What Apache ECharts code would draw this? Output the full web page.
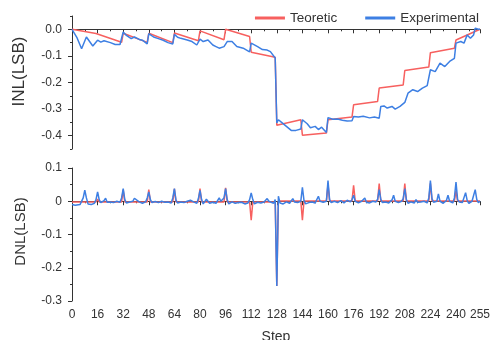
<!DOCTYPE html>
<html>
<head>
<meta charset="utf-8">
<script src="https://cdn.jsdelivr.net/npm/echarts@6/dist/echarts.min.js"></script>
<style>
  html, body { margin: 0; padding: 0; background: #fff; }
  #chart { width: 494px; height: 340px; }
</style>
</head>
<body>
<div id="chart"></div>
<script>
// step positions of the ticks
const stepMajor = [0, 16, 32, 48, 64, 80, 96, 112, 128, 144, 160, 176, 192, 208, 224, 240, 255];
const stepMinor = [8, 24, 40, 56, 72, 88, 104, 120, 136, 152, 168, 184, 200, 216, 232, 248];
const inlMajor = [0, -0.1, -0.2, -0.3, -0.4];
const inlMinor = [0.05, -0.05, -0.15, -0.25, -0.35, -0.45];
const dnlMajor = [0.1, 0, -0.1, -0.2, -0.3];
const dnlMinor = [0.05, -0.05, -0.15, -0.25];

// INL, theoretical (break points of the saw-tooth)
const inlTheo = [
  [0, 0], [15, -0.016], [16, -0.01], [31, -0.049], [32, -0.015], [47, -0.049],
  [48, -0.015], [63, -0.05], [64, -0.014], [79, -0.043], [80, -0.006], [95, -0.039],
  [96, 0.0], [111, -0.027], [112, -0.086], [127, -0.105], [128, -0.361], [143, -0.34],
  [144, -0.398], [159, -0.39], [160, -0.34], [175, -0.33], [176, -0.284], [191, -0.271],
  [192, -0.221], [207, -0.209], [208, -0.155], [223, -0.142], [224, -0.088], [239, -0.071],
  [240, -0.04], [255, 0.0]
];

// INL, measured
const inlExp = [
  [0, 0], [3, -0.03], [6, -0.073], [9, -0.029], [13, -0.063], [16, -0.041], [18, -0.048],
  [20, -0.043], [24, -0.05], [27, -0.057], [30, -0.057], [31, -0.05], [32, -0.01], [34, -0.023],
  [37, -0.035], [39, -0.029], [42, -0.038], [44, -0.041], [47, -0.055], [48, -0.016], [51, -0.029],
  [54, -0.035], [57, -0.041], [60, -0.05], [63, -0.055], [64, -0.019], [66, -0.03], [68, -0.034],
  [72, -0.04], [75, -0.046], [78, -0.059], [80, -0.037], [82, -0.046], [85, -0.04], [88, -0.059],
  [90, -0.065], [92, -0.071], [95, -0.065], [97, -0.046], [100, -0.046], [103, -0.065], [107, -0.071],
  [111, -0.085], [112, -0.052], [116, -0.065], [119, -0.076], [122, -0.078], [124, -0.084], [127, -0.108],
  [128, -0.352], [129, -0.34], [131, -0.35], [134, -0.365], [137, -0.38], [140, -0.38], [143, -0.375],
  [144, -0.34], [147, -0.355], [149, -0.37], [152, -0.365], [154, -0.377], [156, -0.368], [159, -0.388],
  [160, -0.332], [163, -0.338], [166, -0.337], [169, -0.342], [172, -0.345], [175, -0.344], [176, -0.328],
  [179, -0.33], [182, -0.327], [186, -0.333], [189, -0.33], [192, -0.334], [193, -0.29], [195, -0.288],
  [197, -0.296], [200, -0.29], [202, -0.3], [205, -0.29], [208, -0.275], [210, -0.24], [213, -0.227],
  [216, -0.234], [219, -0.221], [222, -0.212], [223, -0.205], [224, -0.152], [227, -0.159], [230, -0.127],
  [233, -0.14], [236, -0.121], [239, -0.109], [240, -0.052], [243, -0.046], [245, -0.052], [247, -0.021],
  [249, -0.034], [251, -0.021], [252, 0.004], [254, 0.0], [255, 0.0]
];

// DNL, theoretical
const dnlTheo = [
  [0, -0.002], [15, -0.002], [16, 0.006], [17, -0.002], [31, -0.002], [32, 0.034], [33, -0.002],
  [47, -0.002], [48, 0.035], [49, -0.002], [63, -0.002], [64, 0.037], [65, -0.002], [79, -0.002],
  [80, 0.038], [81, -0.002], [95, -0.002], [96, 0.04], [97, -0.002], [111, -0.002], [112, -0.057],
  [113, -0.002], [127, -0.002], [128, -0.255], [129, 0.001], [143, 0.001], [144, -0.057], [145, 0.001],
  [159, 0.001], [160, 0.05], [161, 0.001], [175, 0.001], [176, 0.048], [177, 0.001], [191, 0.001],
  [192, 0.053], [193, 0.001], [207, 0.001], [208, 0.053], [209, 0.001], [223, 0.001], [224, 0.054],
  [225, 0.001], [239, 0.001], [240, 0.031], [241, 0.001], [255, 0.001]
];

// DNL, measured
const dnlExp = [
  [0, -0.01], [2, -0.012], [5, -0.01], [6, -0.005], [7, 0.01], [8, 0.033], [9, 0.01], [10, -0.008],
  [12, -0.01], [14, -0.006], [15, 0.005], [16, 0.028], [17, 0.005], [18, -0.004], [20, 0.002], [21, 0.009],
  [22, -0.003], [24, -0.002], [26, -0.004], [28, 0.0], [30, -0.003], [31, 0.01], [32, 0.038], [33, 0.005],
  [34, -0.005], [36, -0.002], [38, 0.0], [39, 0.009], [40, 0.003], [42, -0.002], [44, -0.006], [46, -0.002],
  [47, 0.01], [48, 0.028], [49, 0.005], [50, -0.004], [52, -0.001], [54, -0.004], [56, 0.0], [58, -0.003],
  [60, -0.002], [62, -0.005], [63, 0.01], [64, 0.038], [65, 0.003], [66, -0.005], [68, -0.002], [70, -0.004],
  [72, 0.0], [74, 0.003], [76, -0.002], [78, -0.006], [79, 0.008], [80, 0.033], [81, 0.005], [82, -0.008],
  [84, 0.006], [85, 0.0], [86, -0.006], [88, -0.003], [90, -0.006], [92, 0.01], [93, 0.0], [94, -0.004],
  [95, 0.01], [96, 0.038], [97, 0.005], [98, -0.008], [100, -0.002], [102, -0.006], [104, -0.004], [106, -0.003],
  [108, -0.008], [110, -0.005], [111, 0.005], [112, 0.025], [113, 0.005], [114, -0.008], [116, -0.003],
  [118, -0.005], [120, -0.002], [122, 0.008], [123, 0.0], [124, -0.004], [126, -0.006], [127, 0.005],
  [128, -0.255], [129, 0.015], [130, -0.005], [132, -0.008], [134, -0.002], [136, -0.006], [138, 0.008],
  [139, -0.002], [141, -0.004], [143, 0.0], [144, 0.042], [145, 0.002], [146, -0.008], [148, -0.004],
  [150, -0.002], [152, -0.005], [154, 0.015], [155, 0.0], [157, -0.003], [159, 0.0], [160, 0.062],
  [161, 0.005], [162, -0.004], [164, 0.0], [166, -0.004], [168, 0.002], [170, -0.005], [172, 0.003],
  [174, -0.002], [175, 0.005], [176, 0.018], [177, 0.0], [179, -0.005], [181, 0.0], [183, 0.01],
  [184, -0.003], [186, -0.005], [188, 0.0], [190, -0.002], [191, 0.006], [192, 0.035], [193, 0.006],
  [194, -0.004], [196, -0.002], [198, -0.005], [200, 0.004], [201, 0.018], [202, 0.0], [204, -0.004],
  [206, 0.0], [207, 0.008], [208, 0.038], [209, 0.005], [210, -0.006], [212, -0.002], [214, -0.005],
  [215, 0.005], [216, -0.003], [218, -0.002], [220, 0.0], [222, -0.005], [223, 0.01], [224, 0.062],
  [225, 0.008], [226, -0.003], [228, 0.0], [229, 0.022], [230, 0.0], [232, -0.006], [234, 0.002],
  [235, 0.018], [236, 0.0], [238, -0.005], [239, 0.01], [240, 0.058], [241, 0.005], [242, -0.002],
  [244, -0.004], [246, 0.026], [247, 0.002], [248, -0.006], [250, 0.0], [251, -0.003], [252, 0.035],
  [253, 0.005], [254, -0.004], [255, 0.0]
];

const RED = '#f7605f';
const BLUE = '#3d7fe3';
const FONT = '"Liberation Sans", Arial, sans-serif';
const AXIS_COLOR = '#333';

const chart = echarts.init(document.getElementById('chart'));

// main axis (line, major ticks, labels) + overlay axis with the short minor ticks
function xAxes(gridIndex, showLabels) {
  return [
    {
      type: 'value', gridIndex, min: 0, max: 255,
      position: 'bottom',
      axisLine: { lineStyle: { color: AXIS_COLOR, width: 1 } },
      axisTick: { customValues: stepMajor, length: 4, lineStyle: { color: AXIS_COLOR } },
      axisLabel: {
        show: showLabels, customValues: stepMajor, margin: 8,
        color: AXIS_COLOR, fontSize: 12, fontFamily: FONT
      },
      splitLine: { show: false },
      name: showLabels ? 'Step' : '',
      nameLocation: 'middle', nameGap: 29,
      nameTextStyle: { color: AXIS_COLOR, fontSize: 14, fontFamily: FONT }
    },
    {
      type: 'value', gridIndex, min: 0, max: 255,
      position: 'bottom',
      axisLine: { show: false },
      axisTick: { customValues: stepMinor, length: 2, lineStyle: { color: AXIS_COLOR } },
      axisLabel: { show: false },
      splitLine: { show: false }
    }
  ];
}

function yAxes(gridIndex, min, max, major, minor, name, nameSize, namePad, fmt) {
  return [
    {
      type: 'value', gridIndex, min, max,
      position: 'left',
      axisLine: { show: true, lineStyle: { color: AXIS_COLOR, width: 1 } },
      axisTick: { show: true, customValues: major, length: 4, lineStyle: { color: AXIS_COLOR } },
      axisLabel: {
        customValues: major, margin: 10, color: AXIS_COLOR, fontSize: 12, fontFamily: FONT,
        formatter: fmt
      },
      splitLine: { show: false },
      name, nameLocation: 'middle', nameGap: 44,
      nameTextStyle: { color: AXIS_COLOR, fontSize: nameSize, fontFamily: FONT, padding: [0, 0, 0, namePad] }
    },
    {
      type: 'value', gridIndex, min, max,
      position: 'left',
      axisLine: { show: false },
      axisTick: { show: true, customValues: minor, length: 2, lineStyle: { color: AXIS_COLOR } },
      axisLabel: { show: false },
      splitLine: { show: false }
    }
  ];
}

function line(name, data, color, xi, yi, z) {
  return {
    type: 'line', name, data, xAxisIndex: xi, yAxisIndex: yi,
    showSymbol: false, symbol: 'none', z,
    lineStyle: { color, width: 1.5 },
    itemStyle: { color },
    animation: false
  };
}

const option = {
  animation: false,
  legend: {
    data: ['Teoretic', 'Experimental'],
    top: 6, right: 10,
    icon: 'rect', itemWidth: 30, itemHeight: 3, itemGap: 28,
    textStyle: { color: AXIS_COLOR, fontSize: 13.5, fontFamily: FONT }
  },
  grid: [
    { left: 72, right: 14, top: 16, height: 133, outerBoundsMode: 'none' },
    { left: 72, right: 14, top: 168, height: 133, outerBoundsMode: 'none' }
  ],
  xAxis: [...xAxes(0, false), ...xAxes(1, true)],
  yAxis: [
    ...yAxes(0, -0.45, 0.05, inlMajor, inlMinor, 'INL(LSB)', 17, 22, v => v.toFixed(1)),
    ...yAxes(1, -0.3, 0.1, dnlMajor, dnlMinor, 'DNL(LSB)', 15, 6, v => (v === 0 ? '0' : v.toFixed(1)))
  ],
  series: [
    line('Teoretic', inlTheo, RED, 0, 0, 2),
    line('Experimental', inlExp, BLUE, 0, 0, 3),
    line('Teoretic', dnlTheo, RED, 2, 2, 2),
    line('Experimental', dnlExp, BLUE, 2, 2, 3)
  ]
};

chart.setOption(option);
</script>
</body>
</html>
